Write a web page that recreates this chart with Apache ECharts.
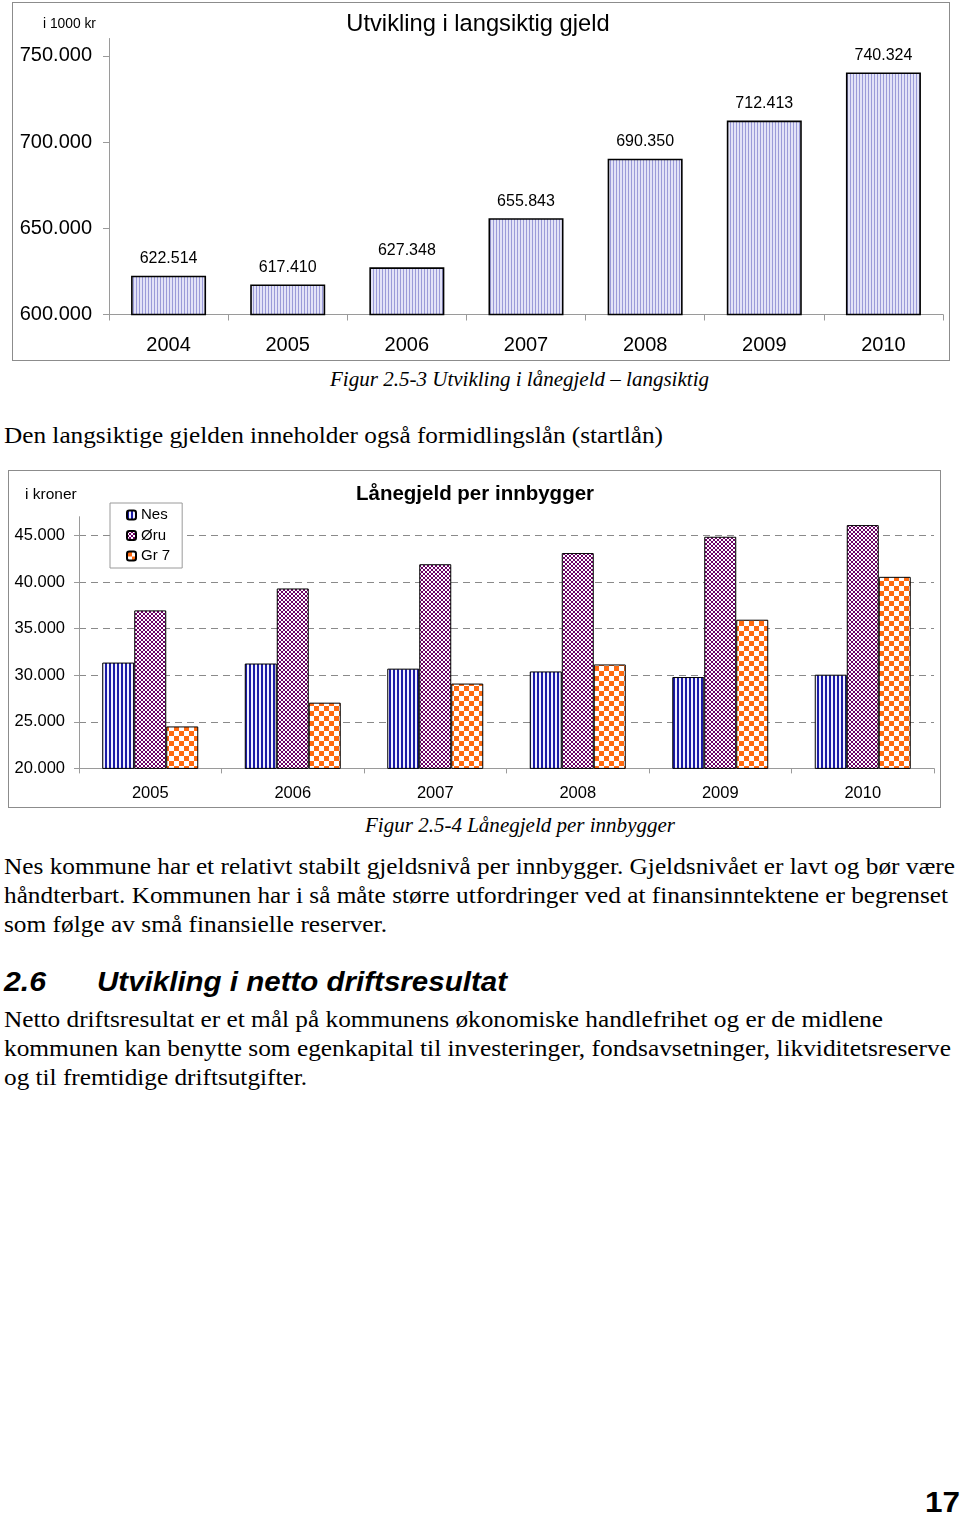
<!DOCTYPE html>
<html><head><meta charset="utf-8">
<script src="https://cdn.jsdelivr.net/npm/echarts@6/dist/echarts.min.js"></script>
<style>
body{margin:0;background:#fff;width:960px;height:1515px;position:relative;overflow:hidden;font-family:'Liberation Serif','Times New Roman',serif;color:#000}
.box{position:absolute;border:1px solid #8c8c8c;box-sizing:border-box;background:#fff}
.ln{position:absolute;white-space:nowrap;line-height:1;transform-origin:0 50%}
.it{font-style:italic}
.h{font-family:'Liberation Sans',Arial,sans-serif;font-weight:bold;font-style:italic}
</style></head><body>
<div id="c1" class="box" style="left:12px;top:2px;width:938px;height:359px"></div>
<div id="c2" class="box" style="left:8px;top:470px;width:933px;height:338px"></div>

<div class="ln it" style="top:369px;font-size:20px" data-x1="330" data-x2="709">Figur 2.5-3 Utvikling i lånegjeld – langsiktig</div>
<div class="ln" style="top:424px;font-size:23.5px" data-x1="4" data-x2="663">Den langsiktige gjelden inneholder også formidlingslån (startlån)</div>
<div class="ln it" style="top:815px;font-size:20px" data-x1="365" data-x2="675">Figur 2.5-4 Lånegjeld per innbygger</div>
<div class="ln" style="top:855px;font-size:23.5px" data-x1="4" data-x2="955">Nes kommune har et relativt stabilt gjeldsnivå per innbygger. Gjeldsnivået er lavt og bør være</div>
<div class="ln" style="top:884px;font-size:23.5px" data-x1="4" data-x2="948">håndterbart. Kommunen har i så måte større utfordringer ved at finansinntektene er begrenset</div>
<div class="ln" style="top:913px;font-size:23.5px" data-x1="4" data-x2="387">som følge av små finansielle reserver.</div>
<div class="ln h" style="top:968px;font-size:28px" data-x1="4" data-x2="46">2.6</div>
<div class="ln h" style="top:968px;font-size:28px" data-x1="97" data-x2="507">Utvikling i netto driftsresultat</div>
<div class="ln" style="top:1008px;font-size:23.5px" data-x1="4" data-x2="883">Netto driftsresultat er et mål på kommunens økonomiske handlefrihet og er de midlene</div>
<div class="ln" style="top:1037px;font-size:23.5px" data-x1="4" data-x2="951">kommunen kan benytte som egenkapital til investeringer, fondsavsetninger, likviditetsreserve</div>
<div class="ln" style="top:1066px;font-size:23.5px" data-x1="4" data-x2="307">og til fremtidige driftsutgifter.</div>
<div class="ln" style="top:1487px;font-size:30px;font-family:'Liberation Sans',Arial,sans-serif;font-weight:bold" data-x1="925" data-x2="960">17</div>

<script>
// ---------- data ----------
const years1 = ['2004','2005','2006','2007','2008','2009','2010'];
const gjeld = [622514, 617410, 627348, 655843, 690350, 712413, 740324];
const ticks1 = [600000, 650000, 700000, 750000];

const years2 = ['2005','2006','2007','2008','2009','2010'];
const nes = [31350, 31250, 30700, 30400, 29800, 30050];
const oru = [36950, 39300, 41900, 43100, 44850, 46100];
const gr7 = [24500, 27050, 29100, 31150, 35950, 40550];
const ticks2 = [20000, 25000, 30000, 35000, 40000, 45000];
const seriesNames = ['Nes', 'Øru', 'Gr 7'];

// ---------- helpers ----------
function fmt(v){ return Math.round(v).toString().replace(/\B(?=(\d{3})+(?!\d))/g, '.'); }
function stripe(w, sw, bg, fg){
  const c = document.createElement('canvas'); c.width = w; c.height = 4;
  const g = c.getContext('2d'); g.fillStyle = bg; g.fillRect(0,0,w,4);
  g.fillStyle = fg; g.fillRect(0,0,sw,4); return c;
}
function checker(s, a, b){
  const c = document.createElement('canvas'); c.width = 2*s; c.height = 2*s;
  const g = c.getContext('2d'); g.fillStyle = b; g.fillRect(0,0,2*s,2*s);
  g.fillStyle = a; g.fillRect(0,0,s,s); g.fillRect(s,s,s,s); return c;
}
const SANS = "'Liberation Sans', Arial, sans-serif";
const pat1 = {image: stripe(3, 1, '#e2e2f7', '#9a9ad8'), repeat: 'repeat'};
const patNes = {image: stripe(4, 2, '#f0f0ff', '#1c1ca6'), repeat: 'repeat'};
const patOru = {image: checker(2, '#6c0066', '#ffffff'), repeat: 'repeat'};
const patGr = {image: checker(5, '#ff6a10', '#ffffff'), repeat: 'repeat'};

// ---------- chart 1 ----------
const ch1 = echarts.init(document.getElementById('c1'), null, {renderer: 'canvas'});
ch1.setOption({
  animation: false,
  textStyle: {fontFamily: SANS},
  grid: {left: 96, top: 35.5, width: 834, height: 276, outerBoundsMode: 'none', containLabel: false},
  graphic: [
    {type: 'text', x: 465, y: 21, style: {text: 'Utvikling i langsiktig gjeld', font: "23.7px " + SANS, fill: '#000', textAlign: 'center', textVerticalAlign: 'middle'}},
    {type: 'text', x: 30, y: 21, style: {text: 'i 1000 kr', font: "13.8px " + SANS, fill: '#000', textAlign: 'left', textVerticalAlign: 'middle'}}
  ],
  xAxis: {
    type: 'category', data: years1,
    axisLine: {show: true, lineStyle: {color: '#9a9a9a', width: 1}},
    axisTick: {show: true, length: 6, lineStyle: {color: '#9a9a9a'}},
    axisLabel: {fontSize: 20, color: '#000', margin: 21, fontFamily: SANS}
  },
  yAxis: {
    type: 'value', min: 600000, max: 760000, interval: 50000,
    axisLine: {show: true, lineStyle: {color: '#9a9a9a', width: 1}},
    axisTick: {show: true, length: 6, lineStyle: {color: '#9a9a9a'}, customValues: ticks1},
    axisLabel: {fontSize: 20, color: '#000', margin: 17, fontFamily: SANS, formatter: fmt, customValues: ticks1},
    splitLine: {show: false}
  },
  series: [{
    type: 'bar', data: gjeld, barWidth: 75,
    itemStyle: {color: pat1, borderColor: '#000', borderWidth: 1.6},
    label: {show: true, position: 'top', distance: 9, fontSize: 16, color: '#000', fontFamily: SANS, formatter: p => fmt(p.value)}
  }]
});

// ---------- chart 2 ----------
const ch2 = echarts.init(document.getElementById('c2'), null, {renderer: 'canvas'});
const cols = [patNes, patOru, patGr];
const vals = [nes, oru, gr7];
ch2.setOption({
  animation: false,
  textStyle: {fontFamily: SANS},
  grid: {left: 70, top: 45.7, width: 855, height: 251.7, outerBoundsMode: 'none', containLabel: false},
  graphic: [
    {type: 'text', x: 466, y: 23, style: {text: 'Lånegjeld per innbygger', font: "bold 20.5px " + SANS, fill: '#000', textAlign: 'center', textVerticalAlign: 'middle'}},
    {type: 'text', x: 16, y: 24, style: {text: 'i kroner', font: "15.5px " + SANS, fill: '#000', textAlign: 'left', textVerticalAlign: 'middle'}}
  ],
  legend: {
    show: true, data: seriesNames, orient: 'vertical', left: 101, top: 32,
    itemWidth: 9, itemHeight: 9, itemGap: 5.5, padding: [4.5, 12, 4.5, 16],
    borderColor: '#9a9a9a', borderWidth: 1, backgroundColor: '#fff',
    textStyle: {fontSize: 15, color: '#000', fontFamily: SANS}, selectedMode: false
  },
  xAxis: {
    type: 'category', data: years2,
    axisLine: {show: true, lineStyle: {color: '#9a9a9a', width: 1}},
    axisTick: {show: true, length: 5, lineStyle: {color: '#9a9a9a'}},
    axisLabel: {fontSize: 16.5, color: '#000', margin: 16.5, fontFamily: SANS}
  },
  yAxis: {
    type: 'value', min: 20000, max: 47000, interval: 5000,
    axisLine: {show: true, lineStyle: {color: '#9a9a9a', width: 1}},
    axisTick: {show: true, length: 5, lineStyle: {color: '#9a9a9a'}, customValues: ticks2},
    axisLabel: {fontSize: 16.5, color: '#000', margin: 14, fontFamily: SANS, formatter: fmt, customValues: ticks2},
    splitLine: {show: true, lineStyle: {color: '#8a8a8a', type: [7, 5], width: 1}}
  },
  series: seriesNames.map((n, i) => ({
    name: n, type: 'bar', data: vals[i], barWidth: 32, barGap: '0%',
    itemStyle: {color: cols[i], borderColor: '#000', borderWidth: 1}
  }))
});

// ---------- fit text lines ----------
document.querySelectorAll('.ln').forEach(el => {
  const x1 = +el.dataset.x1, x2 = +el.dataset.x2;
  el.style.left = x1 + 'px';
  const w = el.getBoundingClientRect().width;
  if (w > 0) el.style.transform = 'scaleX(' + ((x2 - x1) / w) + ')';
});
</script>
</body></html>
